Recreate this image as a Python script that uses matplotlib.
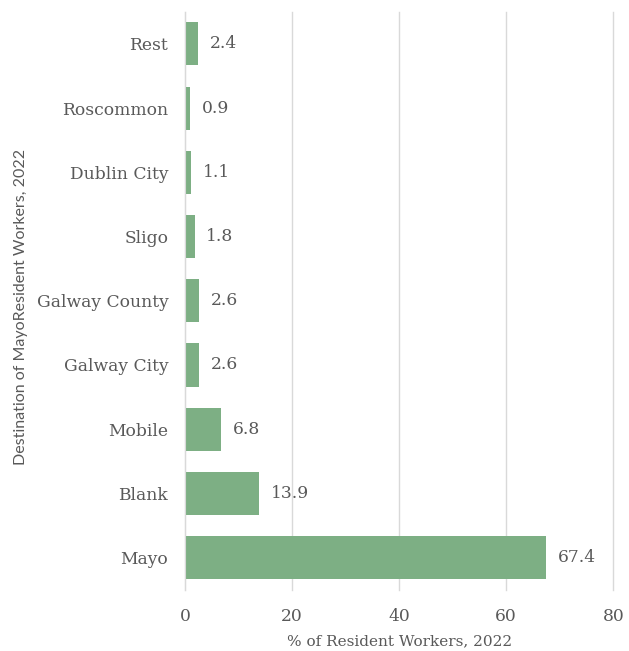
import matplotlib
matplotlib.use("Agg")
import matplotlib.pyplot as plt

categories = ["Mayo", "Blank", "Mobile", "Galway City", "Galway County",
              "Sligo", "Dublin City", "Roscommon", "Rest"]
values = [67.4, 13.9, 6.8, 2.6, 2.6, 1.8, 1.1, 0.9, 2.4]
xticks = [0, 20, 40, 60, 80]

bar_color = "#7daf84"
text_color = "#595959"
grid_color = "#d9d9d9"
serif = ["DejaVu Serif"]
sans = ["Lato", "DejaVu Sans"]

fig = plt.figure(figsize=(6.29, 6.51), dpi=100)
ax = fig.add_axes([0.294, 0.094, 0.681, 0.888])

ypos = list(range(len(categories)))
ax.barh(ypos, values, height=0.67, color=bar_color, zorder=3)

for y, v in zip(ypos, values):
    ax.text(v + 2.2, y, f"{v:.1f}", va="center", ha="left",
            fontsize=12.3, color=text_color, family=serif)

ax.set_xlim(0, 80)
ax.set_ylim(-0.5, len(categories) - 0.5)
ax.set_xticks(xticks)
ax.set_xticklabels([str(t) for t in xticks], family=serif, fontsize=12.3,
                   color=text_color)
ax.set_yticks(ypos)
ax.set_yticklabels(categories, family=serif, fontsize=12.3, color=text_color)
ax.tick_params(axis="both", length=0)
ax.tick_params(axis="y", pad=12)
ax.tick_params(axis="x", pad=13)

ax.grid(axis="x", color=grid_color, linewidth=1, zorder=0)
for line in ax.get_xgridlines():
    line.set_clip_on(False)
for s in ["top", "right", "bottom"]:
    ax.spines[s].set_visible(False)
ax.spines["left"].set_color(grid_color)
ax.spines["left"].set_zorder(4)

ax.set_xlabel("% of Resident Workers, 2022", family=serif, fontsize=11,
              color=text_color, labelpad=7)
fig.text(0.033, 0.529, "Destination of MayoResident Workers, 2022",
         rotation=90, va="center", ha="center", family=sans, fontsize=11.5,
         color=text_color)

fig.savefig("out.png", dpi=100, facecolor="white")
